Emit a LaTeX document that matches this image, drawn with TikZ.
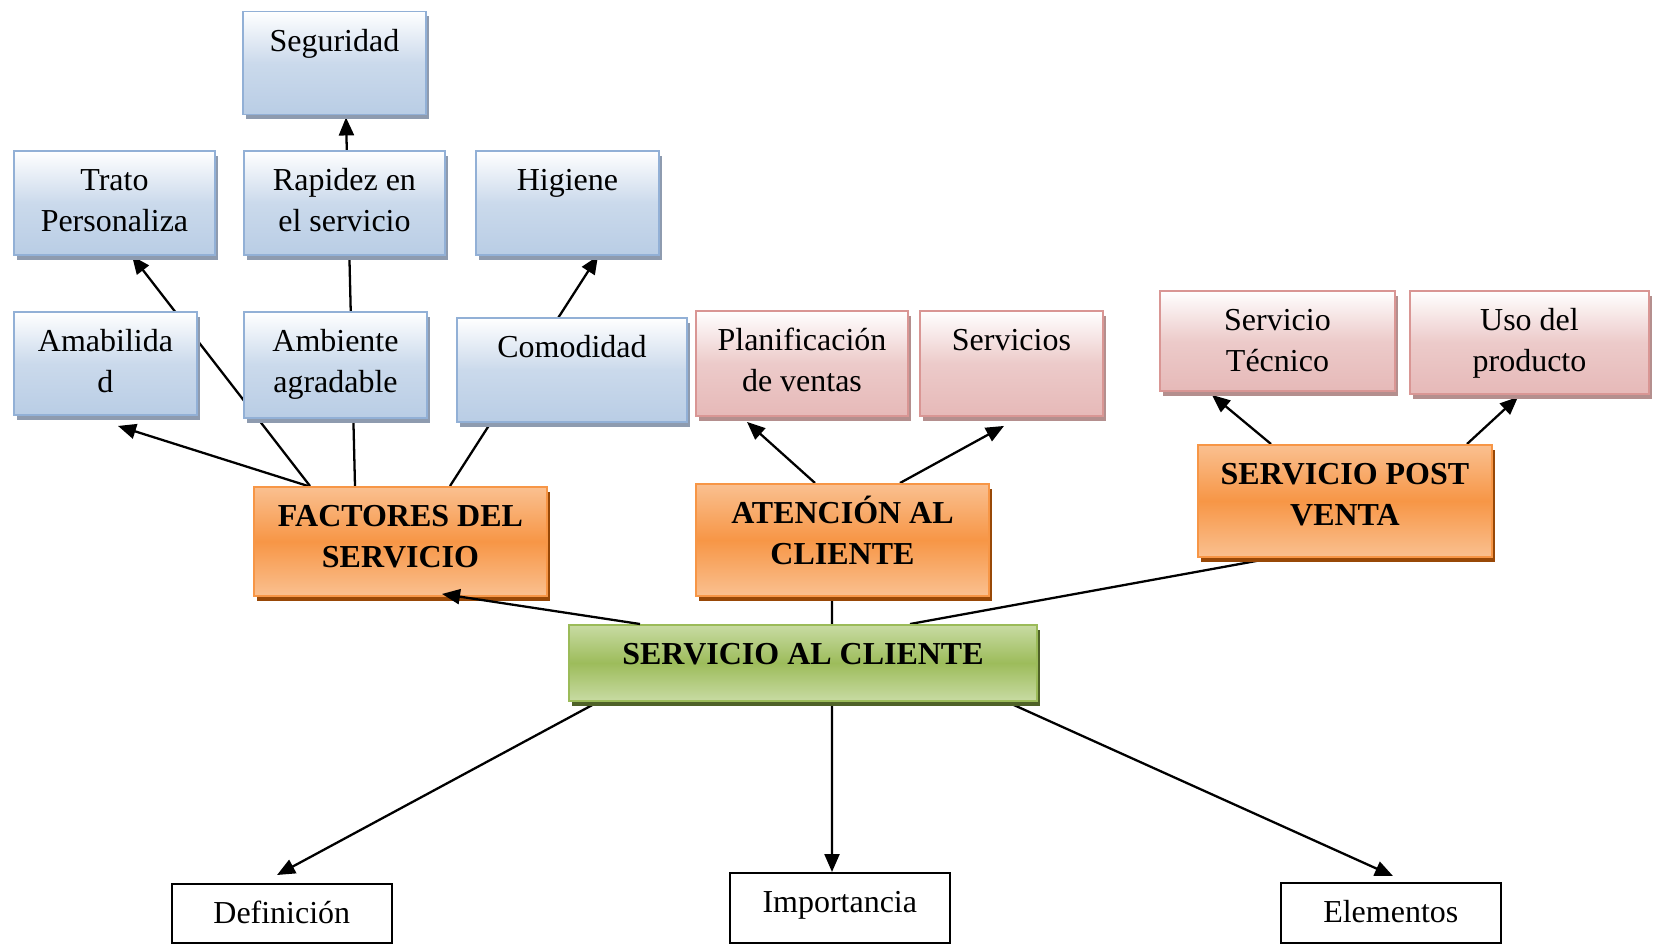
\documentclass[tikz,border=0pt]{standalone}
\usepackage{fontspec}
\setmainfont{Liberation Serif}
\usetikzlibrary{arrows.meta,shadows,backgrounds}
\definecolor{bordeazul}{HTML}{92B0D6}
\definecolor{fondoazul}{HTML}{B9CDE5}
\definecolor{sombraazul}{HTML}{8E9BAF}
\definecolor{borderosa}{HTML}{D99694}
\definecolor{fondorosa}{HTML}{E6B9B8}
\definecolor{sombrarosa}{HTML}{B48F8E}
\definecolor{bordenaranja}{HTML}{F79646}
\definecolor{naranjaclaro}{HTML}{FAC090}
\definecolor{naranjafuerte}{HTML}{F79646}
\definecolor{sombranaranja}{HTML}{984807}
\definecolor{bordeverde}{HTML}{9BBB59}
\definecolor{verdeclaro}{HTML}{C8DBA3}
\definecolor{verdefuerte}{HTML}{9DBC5B}
\definecolor{sombraverde}{HTML}{4F6228}
\newcommand{\caja}[3]{\parbox[c][#2][t]{#1}{\centering\vspace*{0.22cm}\strut#3}}
\tikzset{
  cajabase/.style = {draw = #1, line width = 1.1pt, inner sep = 0pt, anchor = north west,
    font = \fontsize{18.2}{23.3}\selectfont},
  azul/.style = {cajabase = bordeazul, top color = white, bottom color = fondoazul,
    middle color = fondoazul!75!white,
    general shadow = {fill = sombraazul, shadow xshift = 0.06cm, shadow yshift = -0.1cm}},
  rosa/.style = {cajabase = borderosa, top color = white, bottom color = fondorosa,
    middle color = fondorosa!75!white,
    general shadow = {fill = sombrarosa, shadow xshift = 0.06cm, shadow yshift = -0.1cm}},
  naranja/.style = {cajabase = bordenaranja, top color = naranjaclaro, bottom color = naranjaclaro,
    middle color = naranjafuerte, font = \fontsize{18.2}{23.3}\selectfont\bfseries,
    general shadow = {fill = sombranaranja, shadow xshift = 0.06cm, shadow yshift = -0.1cm}},
  verde/.style = {cajabase = bordeverde, top color = verdeclaro, bottom color = verdeclaro,
    middle color = verdefuerte, font = \fontsize{18.2}{23.3}\selectfont\bfseries,
    general shadow = {fill = sombraverde, shadow xshift = 0.06cm, shadow yshift = -0.1cm}},
  blanca/.style = {cajabase = black, line width = 0.9pt, fill = white},
  linea/.style = {line width = 1.3pt},
  flecha/.style = {line width = 1.3pt, -{Triangle[length = 0.36cm, width = 0.3cm]}}
}
\begin{document}
\begin{tikzpicture}
  \useasboundingbox (0,0) rectangle (33.06,-18.96);
  \node [azul] (seg) at (4.84,-0.21) {\caja{3.66cm}{2.06cm}{Seguridad}};
  \node [azul] (trato) at (0.26,-3.0) {\caja{4.02cm}{2.08cm}{Trato\\Personaliza}};
  \node [azul] (rapidez) at (4.86,-3.0) {\caja{4.02cm}{2.08cm}{Rapidez en\\el servicio}};
  \node [azul] (higiene) at (9.5,-3.0) {\caja{3.66cm}{2.08cm}{Higiene}};
  \node [azul] (amab) at (0.26,-6.22) {\caja{3.66cm}{2.06cm}{Amabilida\\d}};
  \node [azul] (ambiente) at (4.86,-6.22) {\caja{3.66cm}{2.12cm}{Ambiente\\agradable}};
  \node [azul] (comod) at (9.12,-6.34) {\caja{4.6cm}{2.08cm}{Comodidad}};
  \node [rosa] (planif) at (13.9,-6.2) {\caja{4.24cm}{2.1cm}{Planificación\\de ventas}};
  \node [rosa] (servs) at (18.38,-6.2) {\caja{3.66cm}{2.1cm}{Servicios}};
  \node [rosa] (tecnico) at (23.18,-5.8) {\caja{4.7cm}{2.0cm}{Servicio\\Técnico}};
  \node [rosa] (uso) at (28.18,-5.8) {\caja{4.78cm}{2.06cm}{Uso del\\producto}};
  \node [naranja] (fac) at (5.06,-9.72) {\caja{5.86cm}{2.18cm}{FACTORES DEL\\SERVICIO}};
  \node [naranja] (aten) at (13.9,-9.66) {\caja{5.86cm}{2.24cm}{ATENCIÓN AL\\CLIENTE}};
  \node [naranja] (post) at (23.94,-8.88) {\caja{5.88cm}{2.24cm}{SERVICIO POST\\VENTA}};
  \node [verde] (sac) at (11.36,-12.48) {\caja{9.36cm}{1.52cm}{SERVICIO AL CLIENTE}};
  \node [blanca] (defin) at (3.42,-17.66) {\caja{4.4cm}{1.18cm}{Definición}};
  \node [blanca] (import) at (14.58,-17.44) {\caja{4.4cm}{1.4cm}{Importancia}};
  \node [blanca] (elem) at (25.6,-17.64) {\caja{4.4cm}{1.2cm}{Elementos}};
  \draw [flecha] ([xshift = 1.44cm]sac.north west) -- ([xshift = 3.78cm, yshift = 0.06cm]fac.south west);
  \begin{scope}[on background layer]
    \draw [flecha] ([xshift = 1.14cm]fac.north west) -- ([xshift = 2.38cm]trato.south west);
    \draw [flecha] ([xshift = 1.1cm]fac.north west) -- ([xshift = 2.1cm, yshift = -0.2cm]amab.south west);
    \draw [flecha] ([xshift = 2.04cm]fac.north west) -- ([xshift = 2.08cm, yshift = -0.04cm]seg.south west);
    \draw [flecha] ([xshift = 3.94cm]fac.north west) -- ([xshift = 2.46cm]higiene.south west);
    \draw [flecha] ([xshift = 2.4cm]aten.north west) -- ([xshift = 1.04cm, yshift = -0.1cm]planif.south west);
    \draw [flecha] ([xshift = 4.1cm]aten.north west) -- ([xshift = 1.7cm, yshift = -0.18cm]servs.south west);
    \draw [flecha] ([xshift = 1.48cm]post.north west) -- ([xshift = 1.06cm, yshift = -0.06cm]tecnico.south west);
    \draw [flecha] ([xshift = 5.4cm]post.north west) -- ([xshift = 2.18cm, yshift = -0.04cm]uso.south west);
    \draw [linea] ([xshift = 5.28cm]sac.north west) -- ([xshift = 2.74cm]aten.south west);
    \draw [linea] ([xshift = 6.84cm]sac.north west) -- ([xshift = 1.52cm]post.south west);
    \draw [flecha] ([xshift = 0.6cm]sac.south west) -- ([xshift = 2.12cm, yshift = 0.16cm]defin.north west);
    \draw [flecha] ([xshift = 5.28cm]sac.south west) -- ([xshift = 2.06cm]import.north west);
    \draw [flecha] ([xshift = 8.78cm]sac.south west) -- ([xshift = 2.26cm, yshift = 0.12cm]elem.north west);
  \end{scope}
\end{tikzpicture}
\end{document}
